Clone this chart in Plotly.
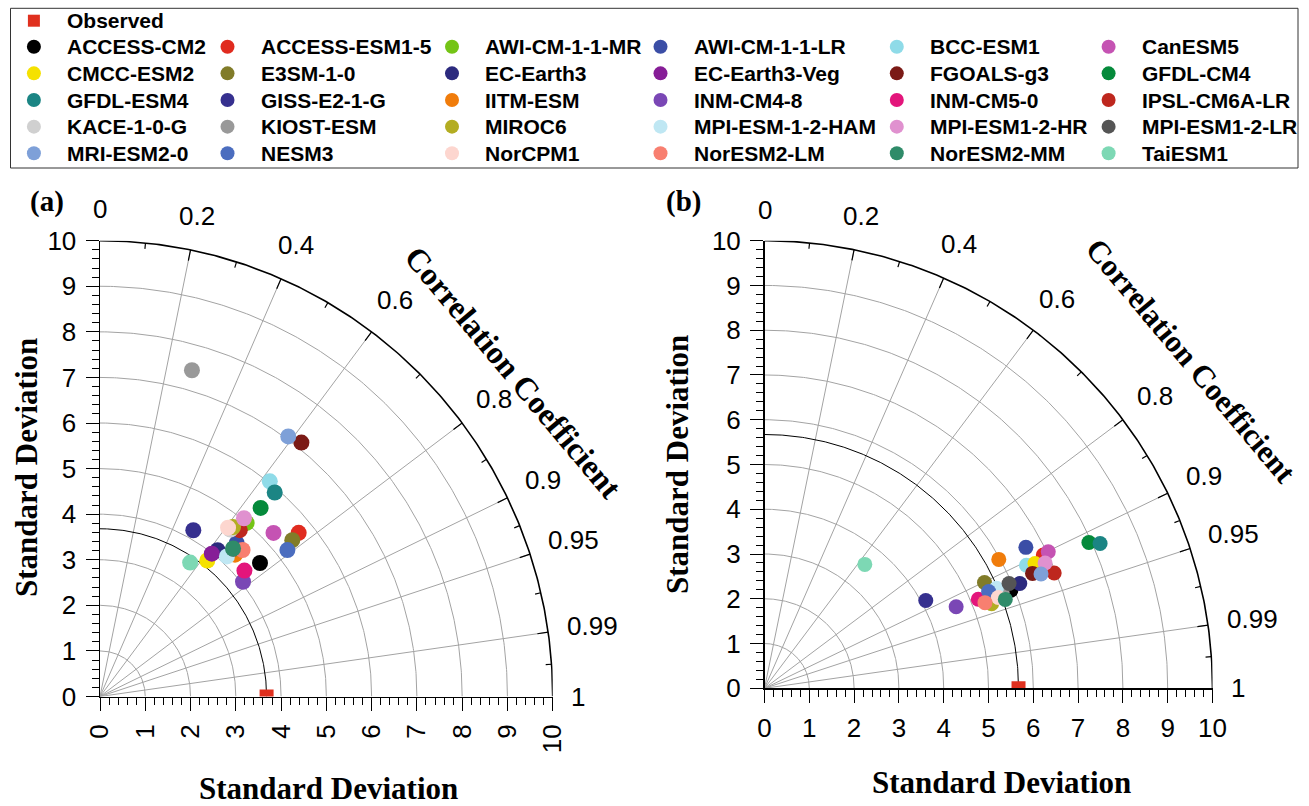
import numpy as np
import plotly.graph_objects as go

# ---------------- data ----------------
MODELS = ["ACCESS-CM2", "ACCESS-ESM1-5", "AWI-CM-1-1-MR", "AWI-CM-1-1-LR", "BCC-ESM1", "CanESM5",
          "CMCC-ESM2", "E3SM-1-0", "EC-Earth3", "EC-Earth3-Veg", "FGOALS-g3", "GFDL-CM4",
          "GFDL-ESM4", "GISS-E2-1-G", "IITM-ESM", "INM-CM4-8", "INM-CM5-0", "IPSL-CM6A-LR",
          "KACE-1-0-G", "KIOST-ESM", "MIROC6", "MPI-ESM-1-2-HAM", "MPI-ESM1-2-HR", "MPI-ESM1-2-LR",
          "MRI-ESM2-0", "NESM3", "NorCPM1", "NorESM2-LM", "NorESM2-MM", "TaiESM1"]

COLORS = ["#000000", "#e02b1f", "#74c416", "#3b4ea6", "#8fdbe8", "#c553b3",
          "#f5e100", "#817c29", "#2c2a7e", "#861d97", "#7b1a16", "#058a3b",
          "#1b8584", "#36308f", "#f07c0b", "#7a47b5", "#e3157b", "#be271e",
          "#d0d0d0", "#999999", "#b3ad22", "#bfe7f3", "#e091cf", "#555555",
          "#7ea0d8", "#4b6dbf", "#fdd6cf", "#f87f70", "#2f8b69", "#7dd8b4"]

# panel (a): standard deviation and correlation of each model
STD_A = [4.59, 5.67, 5.00, 4.52, 6.03, 5.25,
         3.81, 5.46, 4.13, 3.99, 7.13, 5.45,
         5.91, 4.19, 4.31, 4.04, 4.22, 4.78,
         4.66, 7.44, 4.74, 4.16, 5.04, 4.38,
         7.06, 5.24, 4.66, 4.50, 4.38, 3.55]
CORR_A = [0.770, 0.774, 0.648, 0.668, 0.622, 0.730,
          0.622, 0.778, 0.629, 0.619, 0.624, 0.651,
          0.653, 0.492, 0.692, 0.782, 0.756, 0.646,
          0.618, 0.273, 0.620, 0.674, 0.631, 0.673,
          0.589, 0.790, 0.607, 0.700, 0.671, 0.561]

# panel (b)
STD_B = [5.92, 6.90, 5.52, 6.63, 6.46, 7.03,
         6.65, 5.45, 6.16, 5.63, 6.51, 7.94,
         8.16, 4.10, 5.97, 4.65, 5.17, 6.96,
         5.61, 5.72, 5.41, 5.64, 6.86, 5.94,
         6.68, 5.45, 5.60, 5.28, 5.73, 3.56]
CORR_B = [0.929, 0.902, 0.925, 0.880, 0.905, 0.901,
          0.908, 0.901, 0.925, 0.920, 0.919, 0.912,
          0.918, 0.878, 0.876, 0.920, 0.923, 0.929,
          0.927, 0.927, 0.937, 0.918, 0.913, 0.919,
          0.924, 0.918, 0.932, 0.932, 0.938, 0.629]

OBS_STD_A = 3.68
OBS_STD_B = 5.67

CORR_LABELS = [0, 0.2, 0.4, 0.6, 0.8, 0.9, 0.95, 0.99, 1]
STD_TICKS = list(range(0, 11))
STD_MAX = 10

# ---------------- layout constants ----------------
W, H = 1309, 806
PANEL_A = dict(x0=100, x1=552.7, ybot=696.5, ytop=240.7)
PANEL_B = dict(x0=764.5, x1=1212.5, ybot=688.3, ytop=240.7)
GRID_COLOR = "#a3a3a3"
OBS_COLOR = "#e0301e"
SANS = "Liberation Sans, Arial, sans-serif"
SERIF = "Liberation Serif, Times New Roman, serif"
TICK_SIZE = 26

fig = go.Figure()


def corr_angle(c):
    return np.arccos(np.clip(c, -1, 1))


def to_px(p, x, y):
    sx = (p["x1"] - p["x0"]) / STD_MAX
    sy = (p["ybot"] - p["ytop"]) / STD_MAX
    return p["x0"] + x * sx, p["ybot"] - y * sy


def add_panel(xa, ya, p, std, corr, obs_std, msize):
    common = dict(xaxis=xa, yaxis=ya, hoverinfo="skip", showlegend=False)
    th = np.linspace(0, np.pi / 2, 240)
    # std arcs
    xs, ys = [], []
    for r in STD_TICKS[1:-1]:
        xs += list(r * np.cos(th)) + [None]
        ys += list(r * np.sin(th)) + [None]
    fig.add_trace(go.Scatter(x=xs, y=ys, mode="lines",
                             line=dict(color=GRID_COLOR, width=1), **common))
    # correlation rays
    xs, ys = [], []
    for c in CORR_LABELS[1:-1]:
        a = corr_angle(c)
        xs += [0, STD_MAX * np.cos(a), None]
        ys += [0, STD_MAX * np.sin(a), None]
    fig.add_trace(go.Scatter(x=xs, y=ys, mode="lines",
                             line=dict(color=GRID_COLOR, width=1), **common))
    # observed std arc
    fig.add_trace(go.Scatter(x=obs_std * np.cos(th), y=obs_std * np.sin(th), mode="lines",
                             line=dict(color="black", width=1), **common))
    # outer arc
    fig.add_trace(go.Scatter(x=STD_MAX * np.cos(th), y=STD_MAX * np.sin(th), mode="lines",
                             line=dict(color="black", width=1.6), **common))
    # ticks on outer arc: major at labelled values, minor half-way (in angle)
    xs, ys = [], []
    angs = [corr_angle(c) for c in CORR_LABELS]
    for a in angs[1:-1]:
        xs += [STD_MAX * np.cos(a), (STD_MAX - 0.24) * np.cos(a), None]
        ys += [STD_MAX * np.sin(a), (STD_MAX - 0.24) * np.sin(a), None]
    for a0, a1 in zip(angs[:-1], angs[1:]):
        a = 0.5 * (a0 + a1)
        xs += [STD_MAX * np.cos(a), (STD_MAX - 0.13) * np.cos(a), None]
        ys += [STD_MAX * np.sin(a), (STD_MAX - 0.13) * np.sin(a), None]
    fig.add_trace(go.Scatter(x=xs, y=ys, mode="lines",
                             line=dict(color="black", width=1.2), **common))
    # models
    std = np.array(std)
    ang = corr_angle(np.array(corr))
    for i, m in enumerate(MODELS):
        fig.add_trace(go.Scatter(x=[std[i] * np.cos(ang[i])], y=[std[i] * np.sin(ang[i])],
                                 mode="markers", name=m,
                                 marker=dict(color=COLORS[i], size=msize, line=dict(width=0)),
                                 xaxis=xa, yaxis=ya, showlegend=False))
    # observed
    fig.add_trace(go.Scatter(x=[obs_std * np.cos(0)], y=[obs_std * np.sin(0)], mode="markers",
                             name="Observed",
                             marker=dict(color=OBS_COLOR, symbol="square", size=14, line=dict(width=0)),
                             xaxis=xa, yaxis=ya, showlegend=False))
    # correlation labels (placed in pixel space so they are never hidden)
    R = 10.4
    for c in CORR_LABELS:
        a = corr_angle(c)
        s = "0" if c == 0 else ("1" if c == 1 else f"{c:g}")
        dots = s.count(".")
        w = TICK_SIZE * (0.556 * (len(s) - dots) + 0.278 * dots)
        h = TICK_SIZE
        off = 0.5 * w * abs(np.cos(a)) + 0.5 * h * abs(np.sin(a))
        px, py = to_px(p, R * np.cos(a), R * np.sin(a))
        px += off * np.cos(a)
        py -= off * np.sin(a)
        fig.add_annotation(x=px, y=py, xref="x3", yref="y3",
                           text=s, showarrow=False, xanchor="center", yanchor="middle",
                           font=dict(family=SANS, size=TICK_SIZE, color="black"))


add_panel("x", "y", PANEL_A, STD_A, CORR_A, OBS_STD_A, 16)
add_panel("x2", "y2", PANEL_B, STD_B, CORR_B, OBS_STD_B, 15)


def axis(domain, tickangle=None, standoff=8, anchor=None):
    d = dict(domain=domain, range=[0, STD_MAX], showgrid=False, zeroline=False,
             showline=True, linecolor="black", linewidth=1.5, automargin=False,
             ticks="outside", ticklen=13, tickwidth=1, tickcolor="black",
             tickmode="linear", tick0=0, dtick=1,
             minor=dict(tickmode="linear", tick0=0, dtick=0.2, ticks="outside", ticklen=7,
                        tickwidth=1, tickcolor="black"),
             tickfont=dict(family=SANS, size=TICK_SIZE, color="black"),
             ticklabelstandoff=standoff, anchor=anchor, fixedrange=True)
    if tickangle is not None:
        d["tickangle"] = tickangle
    return d


def px_dom_x(p):
    return [p["x0"] / W, p["x1"] / W]


def px_dom_y(p):
    return [1 - p["ybot"] / H, 1 - p["ytop"] / H]


fig.update_layout(
    xaxis=axis(px_dom_x(PANEL_A), tickangle=-90, standoff=3, anchor="y"),
    yaxis=axis(px_dom_y(PANEL_A), standoff=4, anchor="x"),
    xaxis2=axis(px_dom_x(PANEL_B), tickangle=0, standoff=3, anchor="y2"),
    yaxis2=axis(px_dom_y(PANEL_B), standoff=4, anchor="x2"),
    xaxis3=dict(domain=[0, 1], range=[0, W], visible=False, anchor="y3", fixedrange=True,
                automargin=False),
    yaxis3=dict(domain=[0, 1], range=[H, 0], visible=False, anchor="x3", fixedrange=True,
                automargin=False),
)

# ---------------- manual legend (pixel coordinates on hidden axis) ----------------
LEG_COL_X = [33.9, 227.5, 452.0, 660.5, 896.8, 1108.6]
LEG_TEXT_DX = 31
LEG_ROW0_Y = 20.7
LEG_ROW1_Y = 46.7
LEG_ROW_DY = 26.65
NCOL = 6
LEG_FONT = 21

lx, ly, lc = [], [], []
for i, m in enumerate(MODELS):
    r, c = divmod(i, NCOL)
    x = LEG_COL_X[c]
    y = LEG_ROW1_Y + r * LEG_ROW_DY
    lx.append(x); ly.append(y); lc.append(COLORS[i])
    fig.add_annotation(x=x + LEG_TEXT_DX, y=y, xref="x3", yref="y3", text=f"<b>{m}</b>",
                       showarrow=False, xanchor="left", yanchor="middle",
                       font=dict(family=SANS, size=LEG_FONT, color="black"))
fig.add_trace(go.Scatter(x=lx, y=ly, mode="markers", xaxis="x3", yaxis="y3",
                         marker=dict(color=lc, size=14, line=dict(width=0)),
                         hoverinfo="skip", showlegend=False, cliponaxis=False))
fig.add_trace(go.Scatter(x=[LEG_COL_X[0]], y=[LEG_ROW0_Y], mode="markers", xaxis="x3", yaxis="y3",
                         marker=dict(color=OBS_COLOR, symbol="square", size=12, line=dict(width=0)),
                         hoverinfo="skip", showlegend=False, cliponaxis=False))
fig.add_annotation(x=LEG_COL_X[0] + LEG_TEXT_DX, y=LEG_ROW0_Y, xref="x3", yref="y3",
                   text="<b>Observed</b>", showarrow=False, xanchor="left", yanchor="middle",
                   font=dict(family=SANS, size=LEG_FONT, color="black"))
fig.add_shape(type="rect", xref="x3", yref="y3", x0=10.5, y0=8.3, x1=1298, y1=168,
              line=dict(color="#333333", width=1), fillcolor="rgba(0,0,0,0)")

# ---------------- titles ----------------
for (tx, ty, txt, ang, size) in [
    (328.5, 788, "Standard Deviation", 0, 31),
    (1001, 782, "Standard Deviation", 0, 31),
    (26, 468, "Standard Deviation", -90, 31),
    (677, 465, "Standard Deviation", -90, 31),
    (513, 372, "Correlation Coefficient", 50, 32),
    (1191, 360, "Correlation Coefficient", 50, 31),
    (46.6, 201.7, "(a)", 0, 29),
    (683.5, 201.7, "(b)", 0, 29),
]:
    fig.add_annotation(x=tx, y=ty, xref="x3", yref="y3", text=f"<b>{txt}</b>", textangle=ang,
                       showarrow=False, xanchor="center", yanchor="middle",
                       font=dict(family=SERIF, size=size, color="black"))

fig.update_layout(width=W, height=H, margin=dict(l=0, r=0, t=0, b=0, autoexpand=False),
                  paper_bgcolor="white", plot_bgcolor="rgba(0,0,0,0)",
                  showlegend=False, hovermode=False)

fig.write_html("out.html", config={"displayModeBar": False, "staticPlot": True},
               post_script="document.body.style.margin='0px';document.body.style.overflow='hidden';")
